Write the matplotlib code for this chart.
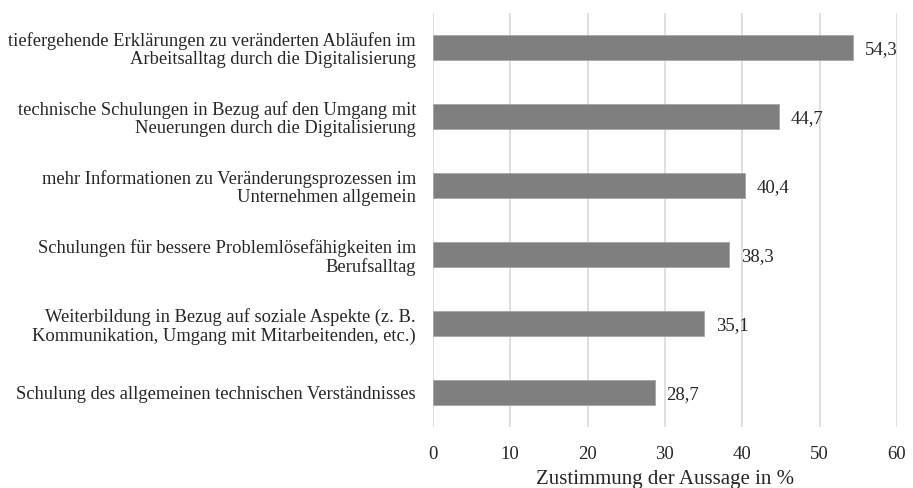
import matplotlib
matplotlib.use("Agg")
import matplotlib.pyplot as plt

# data (top to bottom as shown)
categories = [
    "tiefergehende Erklärungen zu veränderten Abläufen im\nArbeitsalltag durch die Digitalisierung",
    "technische Schulungen in Bezug auf den Umgang mit\nNeuerungen durch die Digitalisierung",
    "mehr Informationen zu Veränderungsprozessen im\nUnternehmen allgemein",
    "Schulungen für bessere Problemlösefähigkeiten im\nBerufsalltag",
    "Weiterbildung in Bezug auf soziale Aspekte (z. B.\nKommunikation, Umgang mit Mitarbeitenden, etc.)",
    "Schulung des allgemeinen technischen Verständnisses",
]
values = [54.3, 44.7, 40.4, 38.3, 35.1, 28.7]
xticks = [0, 10, 20, 30, 40, 50, 60]

plt.rcParams['font.family'] = ['Liberation Serif', 'DejaVu Serif']

fig = plt.figure(figsize=(9.13, 4.88), dpi=100)
ax = fig.add_axes([0.474, 0.125, 0.5085, 0.848])

pos = list(range(len(categories)))[::-1]
ax.barh(pos, values, height=0.36, color='#7f7f7f', edgecolor='#a6a6a6', linewidth=0.6, zorder=3)

for p, v in zip(pos, values):
    ax.text(v + 1.5, p - 0.03, f"{v:.1f}".replace('.', ','), va='center', ha='left',
            fontsize=13.5, color='#262626')

ax.set_xlim(0, 60)
ax.set_ylim(-0.5, len(categories) - 0.5)
ax.set_xticks(xticks)
ax.set_yticks(pos)
ax.set_yticklabels(categories, fontsize=13.3, ha='right', multialignment='right', linespacing=1.1)
ax.tick_params(axis='both', length=0, colors='#262626')
ax.tick_params(axis='x', labelsize=13.5, pad=14)
ax.tick_params(axis='y', pad=12)
ax.xaxis.grid(True, color='#d9d9d9', linewidth=1.2, zorder=0)
ax.set_axisbelow(True)
for s in ax.spines.values():
    s.set_visible(False)

ax.set_xlabel("Zustimmung der Aussage in %", fontsize=15, color='#262626', labelpad=5)

fig.savefig("out.png", dpi=100)
